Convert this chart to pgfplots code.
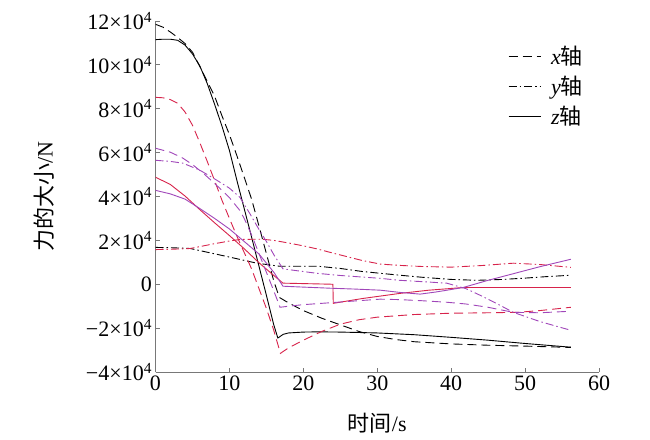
\documentclass[border=0pt]{standalone}
\usepackage{fontspec}
\setmainfont{Liberation Serif}
\newfontfamily\cjk{Noto Sans CJK SC}
\usepackage{pgfplots}
\pgfplotsset{compat=1.18}
\definecolor{myred}{RGB}{215,35,75}
\definecolor{mypur}{RGB}{160,70,185}
\definecolor{axgray}{RGB}{120,120,120}
\newcommand{\bigf}{\fontsize{22}{26}\selectfont}
\newcommand{\sci}[1]{#1\texttimes10\textsuperscript{4}}
\tikzset{
 xs/.style={dash pattern=on 9pt off 5pt},
 ys/.style={dash pattern=on 8pt off 3pt on 1.5pt off 3pt},
 zs/.style={solid},
}
\begin{document}
\begin{tikzpicture}
\useasboundingbox (0,0) rectangle (650pt,439pt);
\begin{axis}[
 at={(155.5pt,67pt)}, anchor=south west,
 scale only axis, width=443.5pt, height=351pt,
 xmin=0, xmax=60, ymin=-4, ymax=12,
 axis lines*=left,
 axis line style={axgray, line width=0.8pt},
 xtick={0,10,...,60}, ytick={-4,-2,...,12},
 yticklabels={\sci{−4},\sci{−2},0,\sci{2},\sci{4},\sci{6},\sci{8},\sci{10},\sci{12}},
 tick align=inside, major tick length=4pt,
 tick style={axgray, line width=0.8pt},
 /pgf/number format/assume math mode=true,
 tick label style={font=\bigf},
 label style={font=\bigf},
 xlabel={{\cjk 时间}/s},
 ylabel={{\cjk 力的大小}/N},
 xlabel style={at={(axis description cs:0.5,-0.145)}, anchor=center},
 ylabel style={at={(axis description cs:-0.251,0.5)}, anchor=center},
 legend style={at={(axis description cs:0.795,0.935)}, anchor=north west, draw=none, fill=none, font=\bigf, inner sep=0pt, row sep=6pt, column sep=8pt},
 legend cell align=left,
 legend image code/.code={\draw[#1, line width=0.9pt] (0pt,0pt) -- (32pt,0pt);},
 every axis plot/.append style={line width=0.9pt},
]
\addlegendimage{black, xs}
\addlegendentry{\textit{x}{\cjk 轴}}
\addlegendimage{black, ys}
\addlegendentry{\textit{y}{\cjk 轴}}
\addlegendimage{black, zs}
\addlegendentry{\textit{z}{\cjk 轴}}

% black x
\addplot[black, xs, forget plot] coordinates {(0,11.85)(1,11.72)(2,11.5)(3,11.25)(4,10.97)(5,10.58)(6,9.92)(7,9.25)(8,8.57)(9,7.67)(10,6.82)(11,5.87)(12,4.88)(13,3.88)(14,2.65)(15,1.4)(16,0.15)(16.75,-0.6)(18,-0.85)(20,-1.2)(22.5,-1.55)(25,-1.85)(27.5,-2.15)(30,-2.38)(32.5,-2.52)(35,-2.62)(40,-2.72)(45,-2.78)(50,-2.82)(56.2,-2.88)};
% black y
\addplot[black, ys, forget plot] coordinates {(0,1.68)(2.5,1.66)(4.7,1.63)(7,1.46)(10,1.24)(13.7,0.96)(16.8,0.82)(20,0.82)(22,0.82)(25,0.72)(28,0.58)(30.4,0.5)(33.1,0.41)(36,0.32)(40,0.22)(43.5,0.18)(47,0.22)(50,0.28)(53,0.35)(56.2,0.41)};
% black z
\addplot[black, zs, forget plot] coordinates {(0,11.15)(1,11.17)(2,11.17)(3,11.12)(4,10.9)(5,10.5)(6,9.95)(7,9.15)(8,8.2)(9,7.2)(10,6.1)(11,4.75)(12,3.45)(13,2.15)(14,0.82)(15,-0.5)(16,-1.85)(16.55,-2.45)(17.3,-2.28)(18,-2.22)(20,-2.18)(22,-2.17)(25,-2.18)(30,-2.22)(35,-2.3)(40,-2.42)(45,-2.55)(50,-2.7)(56.2,-2.87)};
% red x
\addplot[myred, xs, forget plot] coordinates {(0,8.52)(1,8.5)(2,8.42)(3,8.25)(4,7.85)(5,7.25)(6,6.45)(7,5.6)(8,4.72)(9,3.82)(10,3.0)(11,2.2)(12,1.45)(13,0.7)(14,-0.2)(15,-1.1)(16,-2.1)(16.9,-3.15)(18,-2.9)(20,-2.55)(22.5,-2.15)(25,-1.82)(27.5,-1.62)(30,-1.5)(35,-1.38)(40,-1.32)(45,-1.3)(49,-1.28)(52,-1.2)(56.2,-1.05)};
% red y
\addplot[myred, ys, forget plot] coordinates {(0,1.58)(2.5,1.6)(4.7,1.63)(6.5,1.75)(8,1.85)(10,1.97)(11.4,2.04)(13,2.05)(14.5,2.05)(16,2.0)(18,1.88)(20,1.75)(22,1.6)(24,1.42)(26,1.25)(28,1.08)(30.4,0.92)(33,0.86)(36,0.81)(40,0.78)(44,0.85)(48.4,0.96)(52,0.9)(56.2,0.77)};
% red z
\addplot[myred, zs, forget plot] coordinates {(0,4.88)(2,4.55)(4,4.02)(6,3.4)(8,2.8)(10,2.22)(12,1.62)(14,0.98)(16,0.4)(17.25,0.05)(20,0.03)(24,0.0)(24.05,-0.87)(28,-0.65)(33,-0.42)(37,-0.27)(41.6,-0.15)(56.2,-0.15)};
% purple x
\addplot[mypur, xs, forget plot] coordinates {(0,6.2)(2,6.02)(3.7,5.75)(5.1,5.43)(6.5,5.05)(8.3,4.5)(10,3.95)(11.4,3.37)(12,3.0)(13,2.25)(14,1.4)(15,0.55)(16,-0.3)(16.85,-1.05)(18,-1.0)(20,-0.93)(22.5,-0.87)(24.6,-0.82)(27.5,-0.75)(30.4,-0.68)(33,-0.7)(36,-0.75)(39.4,-0.82)(42,-0.9)(45,-1.05)(48.4,-1.28)(52,-1.3)(56.2,-1.23)};
% purple y
\addplot[mypur, ys, forget plot] coordinates {(0,5.65)(2,5.6)(3.7,5.52)(6,5.2)(8.3,4.74)(10,4.38)(11.4,3.97)(12.8,3.2)(14,2.5)(15,1.95)(16,1.35)(17.25,0.7)(20,0.58)(21.8,0.5)(25,0.4)(30.4,0.27)(33,0.18)(36,0.12)(39.4,0.05)(42,-0.2)(43.9,-0.5)(46,-0.85)(48.4,-1.28)(52,-1.7)(56.2,-2.1)};
% purple z
\addplot[mypur, zs, forget plot] coordinates {(0,4.28)(2,4.12)(4,3.88)(6,3.45)(8,3.0)(10,2.52)(12,1.95)(14,1.38)(16,0.55)(17.25,-0.09)(20,-0.13)(23.6,-0.18)(27,-0.22)(30.4,-0.27)(33,-0.37)(35.8,-0.45)(38,-0.35)(41.6,-0.15)(45,0.18)(48.4,0.48)(52,0.8)(56.2,1.14)};
\end{axis}
\end{tikzpicture}
\end{document}
